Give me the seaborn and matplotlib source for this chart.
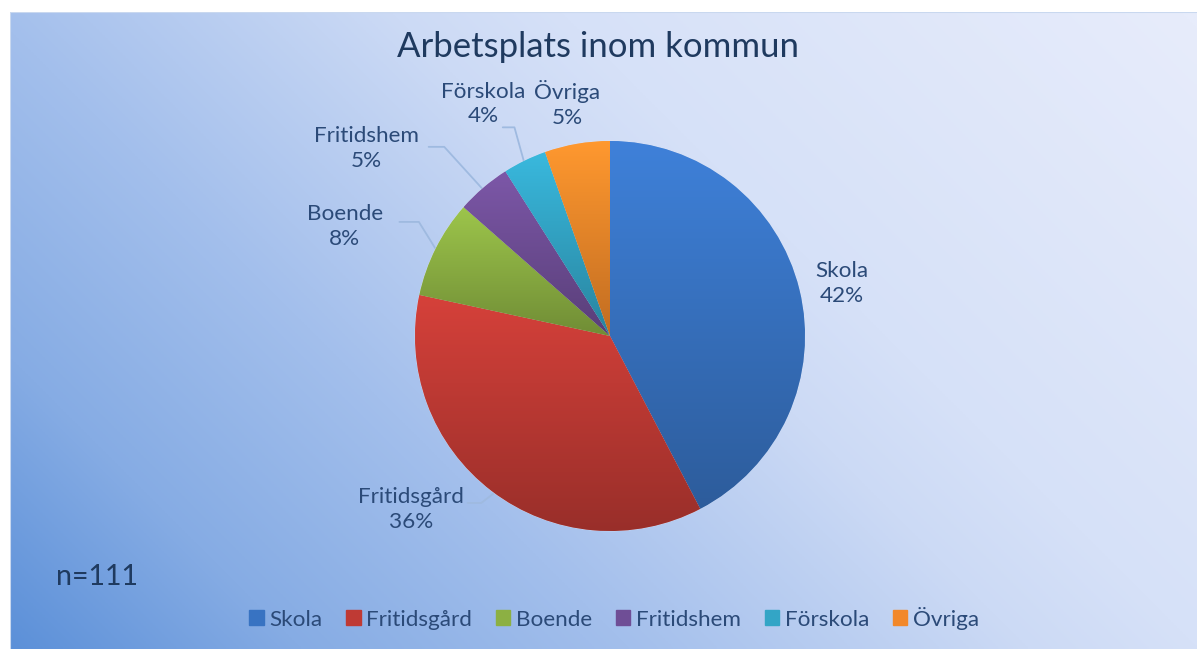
import numpy as np
import matplotlib
matplotlib.use("Agg")
import matplotlib.pyplot as plt
import matplotlib.colors as mcolors
import seaborn as sns

# data (n=111)
categories = ["Skola", "Fritidsgård", "Boende", "Fritidshem", "Förskola", "Övriga"]
counts = [47, 40, 9, 5, 4, 6]
pct_labels = ["42%", "36%", "8%", "5%", "4%", "5%"]
base_hex = ["#3873C2", "#BF3A34", "#8CB043", "#6F4E96", "#33A5C6", "#F2882A"]

sns.set_theme(style="white")
plt.rcParams["font.family"] = ["Lato", "DejaVu Sans"]

W, H = 1197, 649
fig = plt.figure(figsize=(W / 100, H / 100), dpi=100)
fig.patch.set_facecolor("white")

# background gradient (bottom-left blue -> top-right pale)
bg = fig.add_axes([10 / W, 0, 1 - 10 / W, (H - 12) / H])
xs = np.linspace(10, W, 400)
ys = np.linspace(12, H, 220)
X, Y = np.meshgrid(xs, ys)
t = X + (H - Y)
stops_t = [0, 300, 629, 1029, 1199, 1819]
stops_c = ["#5A8FD8", "#86ACE4", "#A3BFEC", "#CCDAF5", "#D6E1F8", "#E7ECFB"]
rgb = np.array([mcolors.to_rgb(c) for c in stops_c])
img = np.dstack([np.interp(t, stops_t, rgb[:, k]) for k in range(3)])
bg.imshow(img, extent=[0, 1, 0, 1], aspect="auto", origin="upper")
bg.set_xlim(0, 1)
bg.set_ylim(0, 1)
bg.axis("off")
bg.plot([0, 1], [1, 1], color="#C9D8EF", lw=1.5)
bg.plot([0, 0], [0, 1], color="#C9D8EF", lw=1.5)

# pie axes: centre (610, 336) px, radius 195 px
cx, cy, R = 610, 336, 195
half = 1.5 * R
ax = fig.add_axes([(cx - half) / W, (H - cy - half) / H, 2 * half / W, 2 * half / H])
ax.set_xlim(-1.5, 1.5)
ax.set_ylim(-1.5, 1.5)
ax.axis("off")

palette = sns.color_palette(base_hex)
wedges, _ = ax.pie(counts, colors=palette, startangle=90, counterclock=False,
                   radius=1, wedgeprops=dict(linewidth=0.4, edgecolor="#DCE5F7"))

# vertical shading inside each slice
for w, col in zip(wedges, palette):
    light = np.clip(np.array(col) * 1.12, 0, 1)
    dark = np.array(col) * 0.80
    bb = w.get_path().get_extents(w.get_transform() - ax.transData)
    grad = np.linspace(0, 1, 256)[:, None]
    shade = light[None, None, :] * (1 - grad[..., None]) + dark[None, None, :] * grad[..., None]
    im = ax.imshow(shade, extent=[bb.x0, bb.x1, bb.y0, bb.y1], origin="upper",
                   aspect="auto", zorder=w.get_zorder() + 0.1)
    im.set_clip_path(w)

ax.set_xlim(-1.5, 1.5)
ax.set_ylim(-1.5, 1.5)

txt_col = "#2B4A78"
line_col = "#9FBAE0"
# label positions (in pie radii) and leader lines
label_pos = [(1.19, 0.27), (-1.02, -0.89), (-1.36, 0.56), (-1.25, 0.96), (-0.65, 1.19), (-0.22, 1.19)]
leader = [None, [(-0.73, -0.856), (-0.66, -0.856), (-0.60, -0.81)],
          [(-1.08, 0.585), (-0.98, 0.585), (-0.89, 0.44)],
          [(-0.93, 0.97), (-0.85, 0.97), (-0.65, 0.75)],
          [(-0.55, 1.07), (-0.49, 1.07), (-0.44, 0.89)], None]

for w, name, p, pos, ld in zip(wedges, categories, pct_labels, label_pos, leader):
    ax.text(pos[0], pos[1], f"{name}\n{p}", ha="center", va="center", fontsize=16.2,
            color=txt_col, linespacing=1.3, clip_on=False)
    if ld is not None:
        lx, ly = zip(*ld)
        ax.plot(lx, ly, color=line_col, lw=1.3, clip_on=False, zorder=0.5)

fig.text(598 / W, 1 - 47 / H, "Arbetsplats inom kommun", ha="center", va="center",
         fontsize=25, color="#1F3A5F")
fig.text(56 / W, 1 - 577 / H, "n=111", ha="left", va="center", fontsize=20.5, color="#1F3A5F")

handles = [plt.Rectangle((0, 0), 1, 1, color=c) for c in palette]
fig.legend(handles, categories, loc="center", bbox_to_anchor=(614 / W, 1 - 618 / H), ncol=6,
           frameon=False, fontsize=16.2, handlelength=0.65, handleheight=0.65,
           handletextpad=0.25, columnspacing=1.05, labelcolor=txt_col)

fig.savefig("out.png", dpi=100)
